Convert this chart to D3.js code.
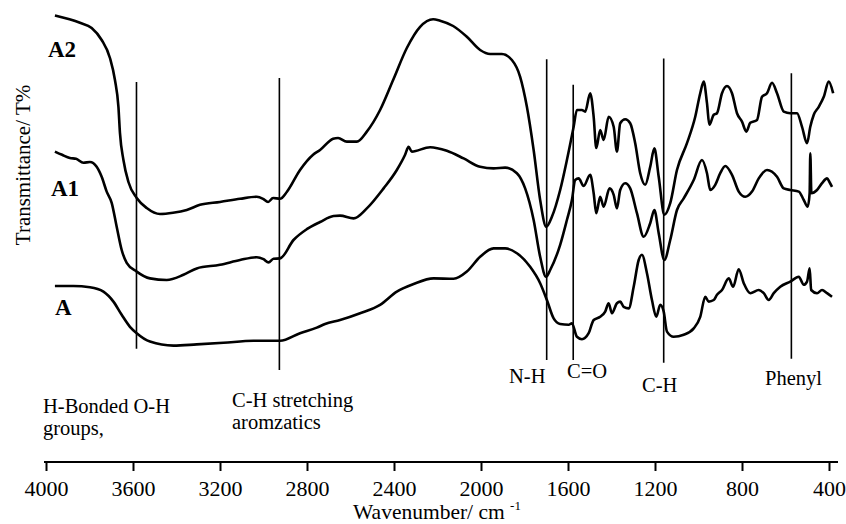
<!DOCTYPE html>
<html>
<head>
<meta charset="utf-8">
<script src="https://cdn.jsdelivr.net/npm/d3@7/dist/d3.min.js"></script>
<style>
  body { margin: 0; background: #ffffff; }
  svg { display: block; font-family: "Liberation Serif", "Times New Roman", serif; }
</style>
</head>
<body>
<svg id="chart" width="846" height="524"></svg>
<script>
// FTIR spectra of three samples, stacked with vertical offsets (arbitrary transmittance units)

// Sample A2 (top trace)
const wavenumberA2 = [3959,3844,3790,3744,3706,3683,3667,3660,3644,3621,3583,3537,3476,3416,3353,3292,3200,3108,3031,3002,2979,2956,2924,2893,2832,2772,2740,2680,2657,2617,2571,2525,2464,2404,2341,2280,2220,2188,2128,2065,2004,1958,1904,1858,1820,1789,1758,1728,1700,1674,1636,1605,1574,1559,1536,1521,1498,1482,1470,1452,1436,1413,1390,1375,1360,1337,1314,1291,1268,1245,1222,1203,1183,1157,1130,1099,1053,1015,992,976,961,950,930,915,892,869,846,823,800,780,762,731,708,685,662,639,608,578,547,524,501,486,470,447,424,401,381];
const transmittanceA2 = [96.1,94.3,93.0,90.0,85.5,80.0,73.3,66.8,60.0,54.5,50.5,48.0,46.5,46.8,47.5,48.8,49.5,50.3,50.8,50.3,49.5,50.5,50.3,52.0,57.5,61.3,62.5,65.3,65.5,64.6,64.6,67.1,72.5,80.0,88.0,93.3,95.2,94.8,93.5,90.8,87.5,86.5,86.5,85.0,80.8,73.3,62.5,50.0,43.3,45.8,52.5,60.0,68.3,72.5,72.5,72.1,76.7,70.8,63.0,67.5,65.0,70.8,68.3,62.1,69.2,70.2,69.2,64.2,56.7,53.8,58.3,62.9,55.8,46.3,49.2,57.5,64.2,70.8,76.7,79.6,74.2,68.8,71.3,71.7,76.7,78.5,76.7,71.7,69.6,67.1,69.3,70.0,75.8,76.7,79.3,76.7,72.1,71.7,71.7,68.3,64.2,68.3,71.3,73.3,75.8,79.6,76.7];

// Sample A1 (middle trace)
const wavenumberA1 = [3959,3926,3890,3862,3828,3798,3767,3744,3721,3698,3675,3652,3629,3583,3522,3445,3368,3307,3200,3108,3031,3000,2977,2954,2924,2862,2801,2740,2678,2648,2586,2525,2448,2387,2349,2333,2318,2234,2157,2080,2004,1942,1889,1835,1797,1758,1728,1701,1682,1636,1605,1582,1567,1551,1528,1498,1482,1470,1452,1436,1409,1390,1375,1360,1337,1314,1283,1252,1222,1203,1183,1157,1130,1099,1068,1022,984,961,946,923,900,877,846,815,785,754,723,685,639,608,578,539,516,498,489,486,481,455,432,409,398,386];
const transmittanceA1 = [62.1,61.3,60.5,60.3,59.3,59.5,58.3,55.8,52.1,49.3,43.3,37.5,34.3,32.1,30.4,30.0,31.3,32.9,33.8,35.0,35.7,35.2,34.4,35.3,35.4,40.0,42.7,44.5,46.0,46.1,45.4,47.9,52.9,57.5,61.3,63.3,62.1,63.2,62.3,60.4,58.3,57.9,58.1,56.7,52.9,45.0,35.8,30.8,32.5,38.8,45.0,50.0,55.0,55.4,53.5,56.3,51.7,46.7,50.8,48.3,52.9,51.3,47.9,52.5,54.2,52.9,46.7,40.8,44.2,47.5,41.7,35.0,40.0,47.5,50.4,55.0,60.0,56.7,52.5,53.8,56.7,58.5,56.3,52.1,50.8,52.1,55.4,57.5,55.8,52.9,52.5,52.1,50.0,48.3,51.7,61.7,51.7,52.5,54.2,55.4,54.5,53.3];

// Sample A (bottom trace)
const wavenumberA = [3959,3874,3798,3736,3690,3652,3614,3583,3522,3414,3307,3184,3046,2924,2832,2755,2717,2648,2556,2464,2387,2310,2218,2126,2065,2004,1942,1889,1835,1774,1728,1697,1666,1636,1597,1582,1559,1536,1505,1482,1452,1429,1413,1398,1375,1360,1344,1321,1298,1275,1260,1237,1214,1194,1176,1160,1145,1114,1068,1022,992,969,953,930,915,892,861,841,815,792,762,723,700,677,654,624,578,539,516,501,489,482,455,432,409,386];
const transmittanceA = [28.5,28.5,28.2,27.1,24.6,21.3,18.3,16.7,14.6,13.6,13.9,14.3,14.8,14.8,16.7,18.1,19.0,20.0,21.7,23.8,27.1,29.0,30.4,30.3,32.1,35.8,37.9,37.9,36.7,33.3,29.2,25.0,20.4,19.0,18.8,19.2,15.8,15.2,16.7,20.0,20.8,22.1,24.2,21.7,24.2,24.6,23.3,22.9,28.3,35.0,36.3,31.7,25.0,20.8,23.8,22.1,17.1,15.8,16.3,17.9,20.8,25.8,24.6,25.0,26.3,27.5,30.4,28.3,32.7,29.2,26.7,27.5,26.7,25.0,26.7,28.3,29.6,30.8,28.8,29.6,32.9,27.5,26.7,27.5,26.7,25.8];

// Band assignment markers
const bandWavenumbers = [3584, 2927, 1698, 1576, 1160, 573];
const bandTop = [79.5, 80.5, 85.2, 78.8, 85.4, 81.7];
const bandBottom = [12.8, 7.5, 10.0, 10.0, 9.3, 10.3];

// Axis ticks
const tickValues = [4000, 3600, 3200, 2800, 2400, 2000, 1600, 1200, 800, 400];
const tickLabels = ["4000", "3600", "3200", "2800", "2400", "2000", "1600", "1200", "800", "400"];

const svg = d3.select("#chart");
const x = d3.scaleLinear().domain([4000, 400]).range([46, 829]);
const y = d3.scaleLinear().domain([0, 100]).range([400, 0]);

const line = d3.line()
  .x(d => x(d[0]))
  .y(d => y(d[1]))
  .curve(d3.curveMonotoneX);

const series = [
  { name: "A2", w: wavenumberA2, t: transmittanceA2 },
  { name: "A1", w: wavenumberA1, t: transmittanceA1 },
  { name: "A",  w: wavenumberA,  t: transmittanceA }
];

// Band marker lines
svg.append("g").selectAll("line")
  .data(bandWavenumbers)
  .join("line")
  .attr("x1", d => x(d)).attr("x2", d => x(d))
  .attr("y1", (d, i) => y(bandTop[i]))
  .attr("y2", (d, i) => y(bandBottom[i]))
  .attr("stroke", "#000")
  .attr("stroke-width", 1.6);

// Spectra
svg.append("g").selectAll("path")
  .data(series)
  .join("path")
  .attr("d", s => line(s.w.map((w, i) => [w, s.t[i]])))
  .attr("fill", "none")
  .attr("stroke", "#000")
  .attr("stroke-width", 2.6)
  .attr("stroke-linejoin", "round");

// Series labels
const seriesLabelPos = [[48, 57], [51, 196], [55, 315]];
svg.append("g").selectAll("text")
  .data(series)
  .join("text")
  .attr("x", (d, i) => seriesLabelPos[i][0])
  .attr("y", (d, i) => seriesLabelPos[i][1])
  .attr("font-size", 23)
  .attr("font-weight", "bold")
  .text(d => d.name);

// Band annotations
const annotations = [
  { lines: ["H-Bonded O-H", "groups,"], x: 43, y: 413 },
  { lines: ["C-H stretching", "aromzatics"], x: 232, y: 407 },
  { lines: ["N-H"], x: 509, y: 383 },
  { lines: ["C=O"], x: 567, y: 378 },
  { lines: ["C-H"], x: 642, y: 392 },
  { lines: ["Phenyl"], x: 765, y: 385 }
];
const ann = svg.append("g").attr("font-size", 20.5);
annotations.forEach(a => {
  const t = ann.append("text").attr("x", a.x).attr("y", a.y);
  a.lines.forEach((l, i) => {
    t.append("tspan").attr("x", a.x).attr("dy", i === 0 ? 0 : 22).text(l);
  });
});

// X axis
const axisY = 462;
const axis = d3.axisBottom(x)
  .tickValues(tickValues)
  .tickFormat((d, i) => tickLabels[i])
  .tickSize(9)
  .tickSizeOuter(0);
const gx = svg.append("g").attr("transform", `translate(0,${axisY})`).call(axis);
gx.select(".domain").remove();
gx.append("line")
  .attr("x1", 44).attr("x2", 838)
  .attr("y1", 0).attr("y2", 0)
  .attr("stroke", "#000").attr("stroke-width", 2.2);
gx.selectAll(".tick line").attr("stroke", "#000").attr("stroke-width", 2);
gx.selectAll(".tick text")
  .attr("font-family", "Liberation Serif, serif")
  .attr("font-size", 22)
  .attr("fill", "#000")
  .attr("y", 34).attr("dy", 0);

// Axis titles
const xTitle = svg.append("text")
  .attr("x", 437).attr("y", 519)
  .attr("text-anchor", "middle")
  .attr("font-size", 21.5);
xTitle.append("tspan").text("Wavenumber/ cm ");
xTitle.append("tspan").attr("font-size", 13).attr("dy", -9).text("-1");

svg.append("text")
  .attr("transform", "translate(30,165) rotate(-90)")
  .attr("text-anchor", "middle")
  .attr("font-size", 21)
  .text("Transmittance/ T%");
</script>
</body>
</html>
